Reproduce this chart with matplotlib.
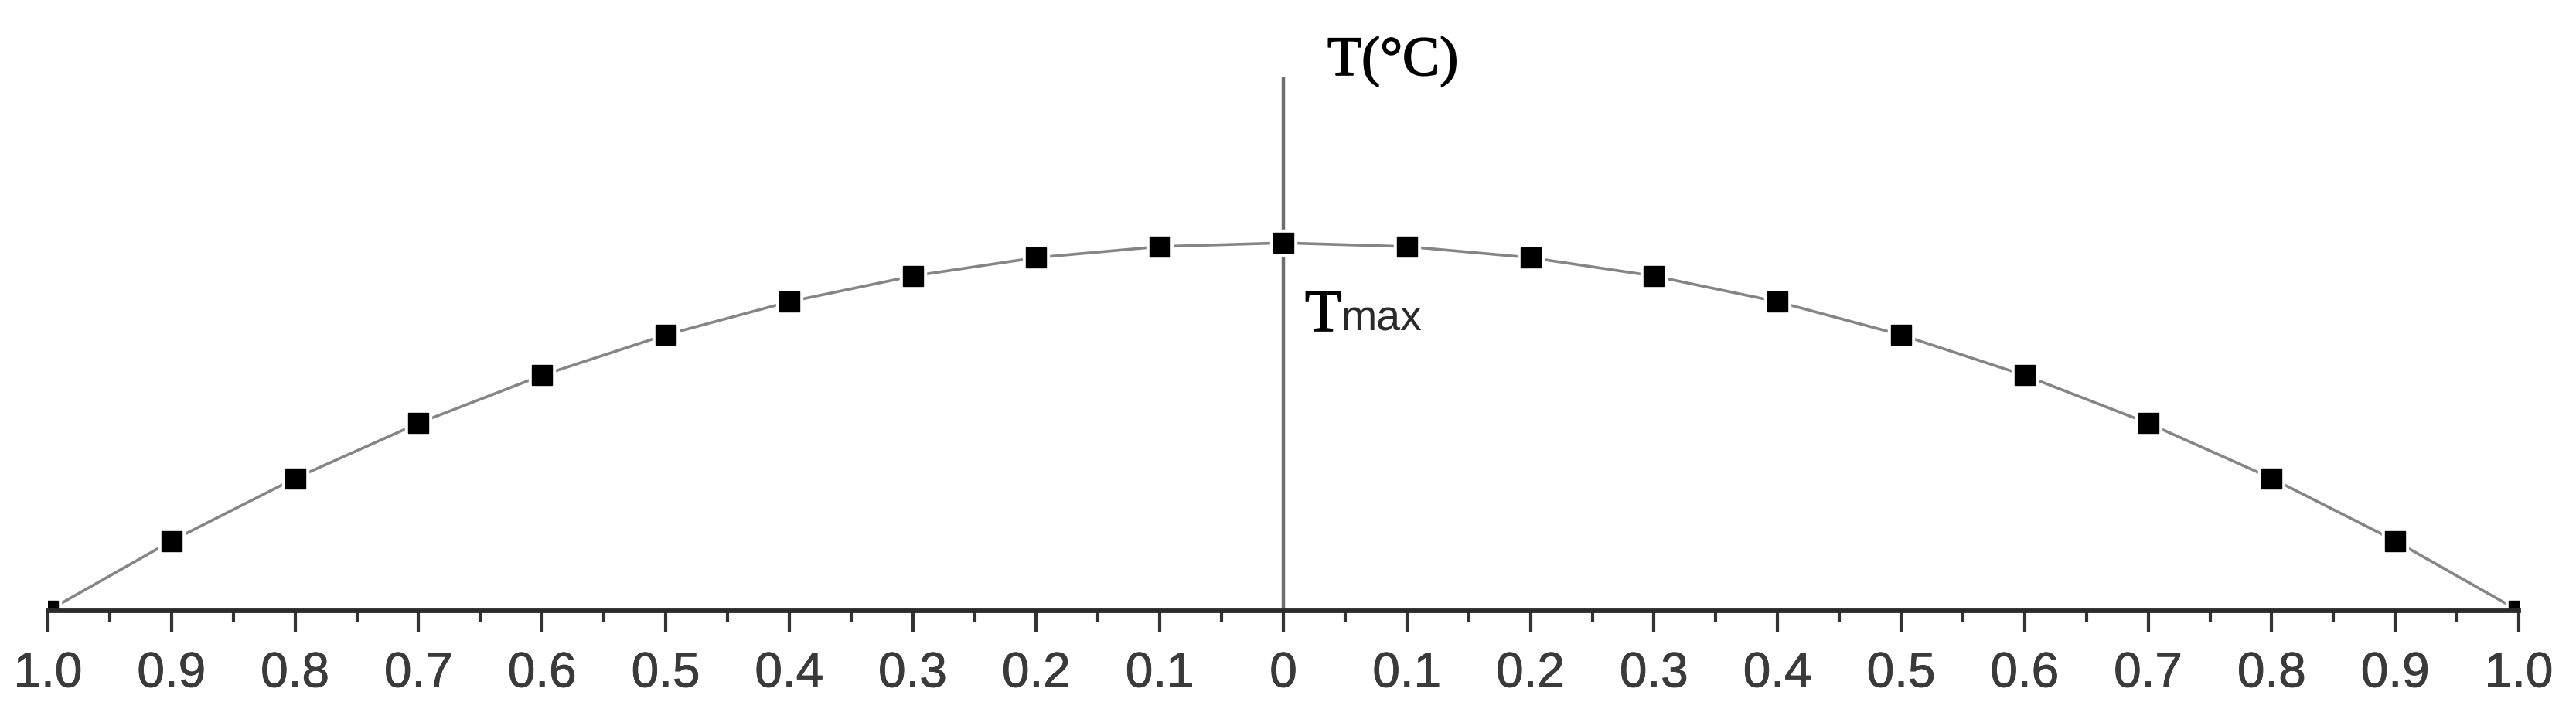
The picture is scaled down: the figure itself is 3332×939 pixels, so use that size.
import matplotlib.pyplot as plt
import matplotlib.patheffects as pe
from matplotlib.ticker import MultipleLocator, FuncFormatter

# Relative position from the centre (left side negative) and temperature
positions = [-1.0, -0.9, -0.8, -0.7, -0.6, -0.5, -0.4, -0.3, -0.2, -0.1, 0.0,
             0.1, 0.2, 0.3, 0.4, 0.5, 0.6, 0.7, 0.8, 0.9, 1.0]
temps = [0.0, 0.19, 0.36, 0.51, 0.64, 0.75, 0.84, 0.91, 0.96, 0.99, 1.0,
         0.99, 0.96, 0.91, 0.84, 0.75, 0.64, 0.51, 0.36, 0.19, 0.0]

W, H = 3332, 939
fig = plt.figure(figsize=(W / 100, H / 100), dpi=100)
ax = fig.add_axes([62 / W, 1 - 790 / H, (3258 - 62) / W, (790 - 100) / H])

# Curve with square markers (white halo leaves a small gap around each marker)
ax.plot(positions, temps, color='#858585', linewidth=2.6, zorder=2)
ax.plot(positions, temps, linestyle='none', marker='s', markersize=25,
        color='white', zorder=3)
ax.plot(positions, temps, linestyle='none', marker='s', markersize=19,
        color='black', zorder=4)

# Vertical T axis through the centre
ax.axvline(0, color='#6e6e6e', linewidth=3.2, zorder=1)

ax.set_xlim(-1, 1)
ax.set_ylim(0, 1.45)

for side in ['top', 'right', 'left']:
    ax.spines[side].set_visible(False)
ax.spines['bottom'].set_color('#2b2b2b')
ax.spines['bottom'].set_linewidth(4.2)
ax.spines['bottom'].set_zorder(5)
ax.set_yticks([])

ax.xaxis.set_major_locator(MultipleLocator(0.1))
ax.xaxis.set_minor_locator(MultipleLocator(0.05))
ax.xaxis.set_major_formatter(FuncFormatter(
    lambda v, p: '0' if abs(v) < 1e-9 else '%.1f' % abs(v)))
ax.tick_params(axis='x', which='major', length=20, width=3, color='#333333',
               pad=17, labelsize=46, labelcolor='#3a3a3a')
ax.tick_params(axis='x', which='minor', length=11, width=3, color='#333333')
for lbl in ax.get_xticklabels():
    lbl.set_fontfamily('Liberation Sans')
    lbl.set_path_effects([pe.withStroke(linewidth=0.6, foreground='#3a3a3a')])

# Labels
heavy = [pe.withStroke(linewidth=1.2, foreground='black')]
fig.text(1717 / W, 1 - 97 / H, 'T(\u00b0C)', fontsize=52, fontfamily='Liberation Serif',
         va='baseline', ha='left', path_effects=heavy)
fig.text(1688 / W, 1 - 428 / H, 'T', fontsize=56, fontfamily='Liberation Serif',
         va='baseline', ha='left', path_effects=heavy)
fig.text(1734 / W, 1 - 428 / H, 'max', fontsize=40, fontfamily='Liberation Sans',
         va='baseline', ha='left', color='#2a2a2a')

fig.savefig('out.png', dpi=100, facecolor='white')
